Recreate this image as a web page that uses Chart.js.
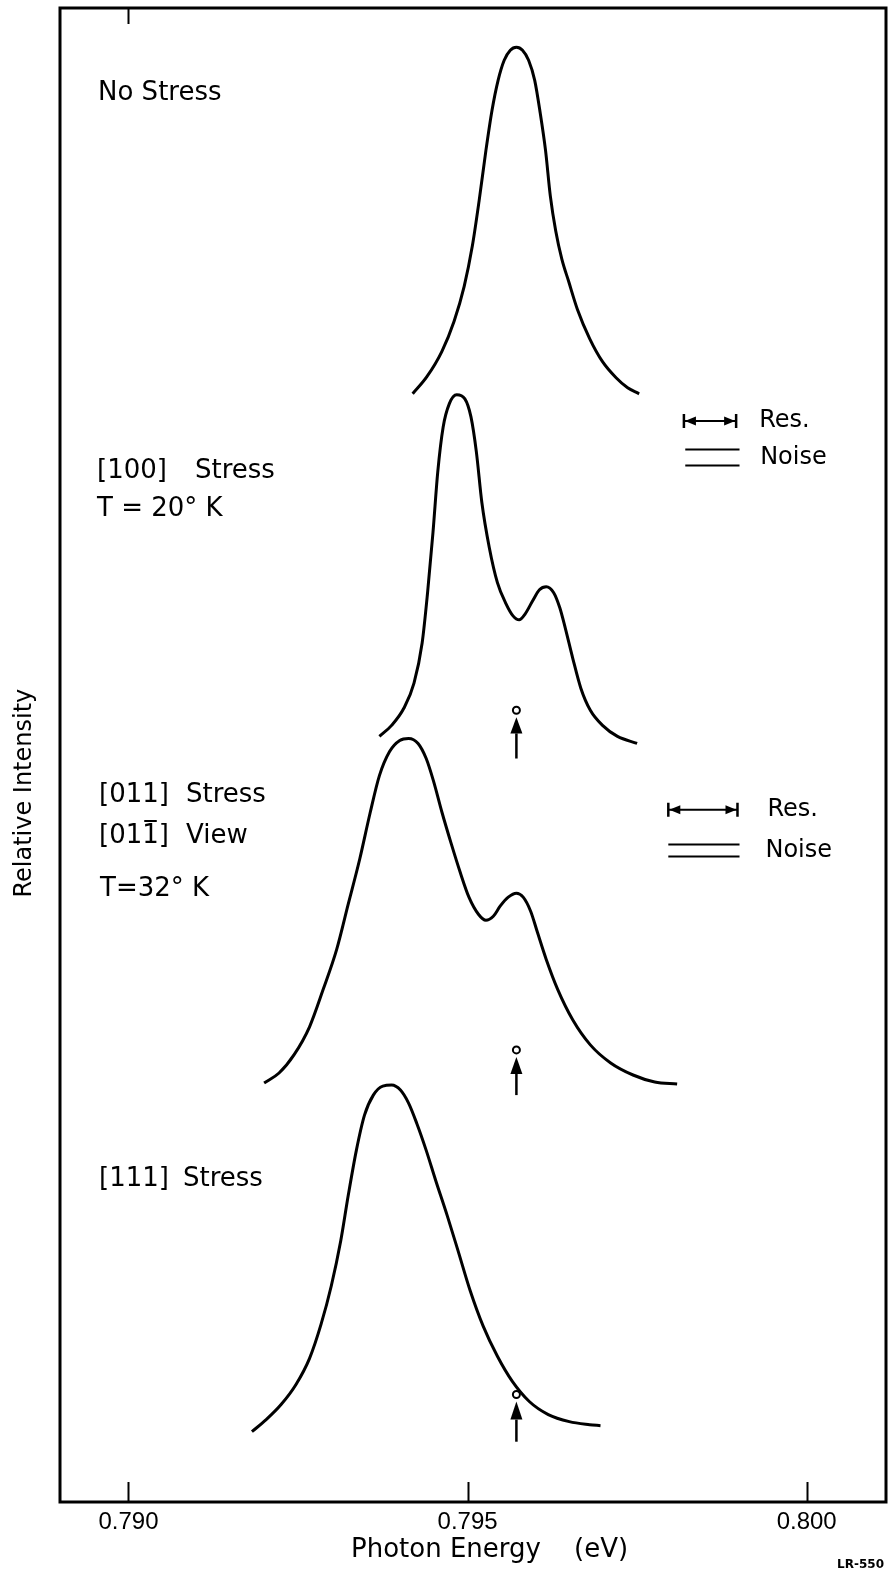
<!DOCTYPE html>
<html><head><meta charset="utf-8">
<script src="https://cdn.jsdelivr.net/npm/chart.js@4.4.0/dist/chart.umd.min.js"></script>
<style>html,body{margin:0;padding:0;background:#fff}#wrap{width:889px;height:1575px;position:relative}</style>
</head><body><div id="wrap"><canvas id="c" width="889" height="1575"></canvas></div>
<script>
// ---- data (photon energy in eV, relative intensity in arbitrary units, curves offset vertically) ----
const xTicks = [0.790, 0.795, 0.800];
const xMin = 0.78899, xMax = 0.80117;
const yMin = 0, yMax = 14.87;

const energyNoStress = [0.79419,0.79440,0.79462,0.79480,0.79495,0.79507,0.79517,0.79527,0.79536,0.79545,0.79554,0.79563,0.79572,0.79581,0.79590,0.79599,0.79607,0.79615,0.79622,0.79630,0.79639,0.79649,0.79662,0.79680,0.79699,0.79719,0.79736,0.79753];
const intensityNoStress = [11.03,11.20,11.45,11.75,12.10,12.50,12.95,13.45,13.85,14.15,14.35,14.45,14.48,14.45,14.35,14.15,13.83,13.45,13.00,12.65,12.37,12.15,11.87,11.58,11.35,11.19,11.09,11.03];

const energy100 = [0.79370,0.79388,0.79406,0.79421,0.79433,0.79441,0.79449,0.79456,0.79464,0.79473,0.79484,0.79496,0.79505,0.79513,0.79521,0.79532,0.79544,0.79556,0.79567,0.79576,0.79585,0.79596,0.79606,0.79616,0.79627,0.79636,0.79644,0.79655,0.79667,0.79681,0.79699,0.79721,0.79750];
const intensity100 = [7.62,7.73,7.90,8.15,8.55,9.05,9.65,10.25,10.70,10.93,11.02,10.98,10.80,10.45,9.95,9.50,9.15,8.95,8.82,8.78,8.84,8.97,9.08,9.11,9.05,8.90,8.70,8.40,8.10,7.88,7.73,7.62,7.55];

const energy011 = [0.79200,0.79222,0.79244,0.79267,0.79287,0.79307,0.79324,0.79341,0.79356,0.79370,0.79385,0.79400,0.79413,0.79427,0.79439,0.79450,0.79462,0.79476,0.79489,0.79502,0.79516,0.79527,0.79538,0.79548,0.79560,0.79572,0.79582,0.79593,0.79603,0.79616,0.79633,0.79655,0.79681,0.79711,0.79744,0.79776,0.79809];
const intensity011 = [4.17,4.27,4.45,4.73,5.10,5.50,5.95,6.40,6.85,7.23,7.47,7.58,7.60,7.55,7.40,7.17,6.87,6.55,6.27,6.02,5.85,5.79,5.83,5.93,6.02,6.06,6.02,5.88,5.67,5.40,5.10,4.80,4.55,4.37,4.25,4.18,4.16];

const energy111 = [0.79182,0.79203,0.79225,0.79247,0.79267,0.79284,0.79299,0.79313,0.79324,0.79336,0.79348,0.79361,0.79375,0.79388,0.79401,0.79413,0.79425,0.79439,0.79453,0.79470,0.79486,0.79504,0.79523,0.79544,0.79566,0.79591,0.79619,0.79650,0.79680,0.79696];
const intensity111 = [0.70,0.82,0.97,1.17,1.43,1.77,2.15,2.60,3.05,3.50,3.85,4.05,4.14,4.15,4.10,3.97,3.77,3.50,3.20,2.85,2.50,2.10,1.75,1.45,1.20,1.00,0.87,0.80,0.77,0.76];

// unstressed line position markers (arrow with small circle)
const arrowEnergy = 0.79572;
const arrowCircle = [7.88, 4.50, 1.07];
const arrowTip    = [7.81, 4.43, 1.00];
const arrowBase   = [7.65, 4.26, 0.82];
const arrowTail   = [7.40, 4.05, 0.60];

// resolution / noise keys
const resLeft   = [0.79819, 0.79796];
const resRight  = [0.79896, 0.79898];
const resLevel  = [10.76, 6.89];
const noiseLeft  = [0.79821, 0.79796];
const noiseRight = [0.79901, 0.79901];
const noiseUpper = [10.48, 6.55];
const noiseLower = [10.32, 6.43];
const keyTextGap = [23, 30];
const noiseTextShift = [1, -2];

const curveLabels = [
  {lines:[{t:"No Stress", x:98, y:93}]},
  {lines:[{t:"[100]", x:97, y:471},{t:"Stress", x:195, y:471},{t:"T = 20° K", x:97, y:509}]},
  {lines:[{t:"[011]", x:99, y:795},{t:"Stress", x:186, y:795},{t:"[011]", x:99, y:836, bar:true},{t:"View", x:186, y:836},{t:"T=32° K", x:100, y:889}]},
  {lines:[{t:"[111]", x:99, y:1179},{t:"Stress", x:183, y:1179}]}
];

function pts(xs, ys){ return xs.map((x,i)=>({x:x, y:ys[i]})); }
const lineStyle = {showLine:true, borderColor:'#000', borderWidth:3, pointRadius:0, tension:0, cubicInterpolationMode:'monotone', fill:false};

const FONT = "'DejaVu Sans', sans-serif";
const NUMFONT = "'Liberation Sans', Arial, sans-serif";

const decor = {
  id:'decor',
  afterDraw(chart){
    const ctx = chart.ctx, a = chart.chartArea, xs = chart.scales.x, ys = chart.scales.y;
    ctx.save();
    // frame
    ctx.strokeStyle = '#000'; ctx.lineWidth = 3;
    ctx.strokeRect(a.left, a.top, a.right - a.left, a.bottom - a.top);
    // inward ticks
    ctx.lineWidth = 2;
    xTicks.forEach(v => {
      const px = Math.round(xs.getPixelForValue(v)) + 0.5;
      ctx.beginPath(); ctx.moveTo(px, a.bottom); ctx.lineTo(px, a.bottom - 20); ctx.stroke();
    });
    {
      const px = Math.round(xs.getPixelForValue(xTicks[0])) + 0.5;
      ctx.beginPath(); ctx.moveTo(px, a.top); ctx.lineTo(px, a.top + 16); ctx.stroke();
    }
    // arrows
    const ax = xs.getPixelForValue(arrowEnergy);
    ctx.fillStyle = '#000';
    for (let i = 0; i < arrowTip.length; i++){
      const cy = ys.getPixelForValue(arrowCircle[i]);
      const ty = ys.getPixelForValue(arrowTip[i]);
      const by = ys.getPixelForValue(arrowBase[i]);
      const ey = ys.getPixelForValue(arrowTail[i]);
      ctx.lineWidth = 2;
      ctx.beginPath(); ctx.arc(ax, cy, 3.5, 0, Math.PI*2); ctx.stroke();
      ctx.beginPath(); ctx.moveTo(ax, ty); ctx.lineTo(ax - 6, by); ctx.lineTo(ax + 6, by); ctx.closePath(); ctx.fill();
      ctx.lineWidth = 2.5;
      ctx.beginPath(); ctx.moveTo(ax, by); ctx.lineTo(ax, ey); ctx.stroke();
    }
    // res / noise keys
    for (let i = 0; i < resLevel.length; i++){
      const l = xs.getPixelForValue(resLeft[i]), r = xs.getPixelForValue(resRight[i]);
      const y = ys.getPixelForValue(resLevel[i]);
      ctx.lineWidth = 2;
      ctx.beginPath(); ctx.moveTo(l, y); ctx.lineTo(r, y); ctx.stroke();
      ctx.lineWidth = 2.5;
      ctx.beginPath(); ctx.moveTo(l, y - 7); ctx.lineTo(l, y + 7); ctx.moveTo(r, y - 7); ctx.lineTo(r, y + 7); ctx.stroke();
      ctx.beginPath(); ctx.moveTo(l + 1, y); ctx.lineTo(l + 12, y - 4.5); ctx.lineTo(l + 12, y + 4.5); ctx.closePath(); ctx.fill();
      ctx.beginPath(); ctx.moveTo(r - 1, y); ctx.lineTo(r - 12, y - 4.5); ctx.lineTo(r - 12, y + 4.5); ctx.closePath(); ctx.fill();
      const nl = xs.getPixelForValue(noiseLeft[i]), nr = xs.getPixelForValue(noiseRight[i]);
      ctx.lineWidth = 1.8;
      [noiseUpper[i], noiseLower[i]].forEach(v => {
        const yy = Math.round(ys.getPixelForValue(v)) + 0.5;
        ctx.beginPath(); ctx.moveTo(nl, yy); ctx.lineTo(nr, yy); ctx.stroke();
      });
      ctx.font = "24px " + FONT; ctx.textBaseline = 'middle'; ctx.textAlign = 'left';
      const tx = r + keyTextGap[i];
      ctx.fillText("Res.", tx, y);
      ctx.fillText("Noise", tx + noiseTextShift[i], (ys.getPixelForValue(noiseUpper[i]) + ys.getPixelForValue(noiseLower[i])) / 2 + 1);
    }
    // curve labels
    ctx.font = "26px " + FONT; ctx.textBaseline = 'middle'; ctx.textAlign = 'left';
    curveLabels.forEach(g => g.lines.forEach(L => {
      ctx.fillText(L.t, L.x, L.y);
      if (L.bar){
        const x0 = L.x + ctx.measureText("[01").width + 2;
        const x1 = L.x + ctx.measureText("[011").width - 2;
        ctx.lineWidth = 2;
        ctx.beginPath(); ctx.moveTo(x0, L.y - 15); ctx.lineTo(x1, L.y - 15); ctx.stroke();
      }
    }));
    // plate number
    ctx.font = "bold 12px " + FONT; ctx.textAlign = 'right'; ctx.textBaseline = 'alphabetic';
    ctx.fillText("LR-550", 884, 1568);
    ctx.restore();
  }
};

new Chart(document.getElementById('c'), {
  type:'scatter',
  data:{ datasets:[
    Object.assign({label:'No Stress', data:pts(energyNoStress, intensityNoStress)}, lineStyle),
    Object.assign({label:'[100] Stress', data:pts(energy100, intensity100)}, lineStyle),
    Object.assign({label:'[011] Stress', data:pts(energy011, intensity011)}, lineStyle),
    Object.assign({label:'[111] Stress', data:pts(energy111, intensity111)}, lineStyle)
  ]},
  options:{
    responsive:false, devicePixelRatio:1, animation:false,
    layout:{padding:{top:8, right:3, left:2, bottom:0}},
    plugins:{legend:{display:false}, tooltip:{enabled:false}},
    scales:{
      x:{type:'linear', min:xMin, max:xMax,
         afterBuildTicks:s => { s.ticks = xTicks.map(v => ({value:v})); },
         afterFit:s => { s.height = 73; },
         grid:{display:false, drawTicks:false}, border:{display:false},
         ticks:{callback:v => v.toFixed(3), color:'#000', font:{family:NUMFONT, size:24}, padding:6, maxRotation:0, autoSkip:false},
         title:{display:true, text:'    Photon Energy    (eV)', color:'#000', font:{family:FONT, size:26}, padding:{top:0,bottom:9}}
      },
      y:{type:'linear', min:yMin, max:yMax,
         afterFit:s => { s.width = 58; },
         grid:{display:false, drawTicks:false}, border:{display:false},
         ticks:{display:false},
         title:{display:true, text:'Relative Intensity          ', color:'#000', font:{family:FONT, size:24}, padding:{top:8,bottom:0}}
      }
    }
  },
  plugins:[decor]
});
</script>
</body></html>
